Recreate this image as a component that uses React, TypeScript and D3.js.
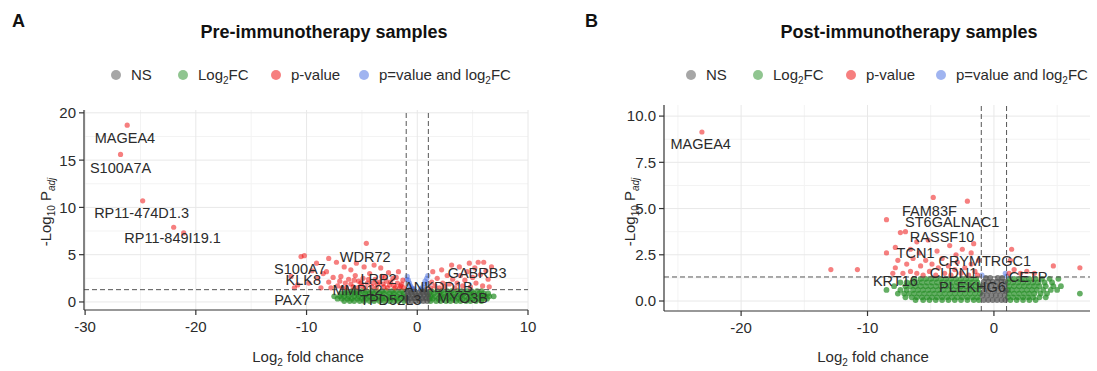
import React from 'react';
import * as d3 from 'd3';

type Pt = [number, number];
type Row = [number, number[]];
type Lbl = [string, number, number];

// ---- Panel A: pre-immunotherapy ----
const redA: Pt[] = [
  [-26.2, 18.7], [-26.8, 15.6], [-24.8, 10.7], [-22.0, 7.9], [-21.1, 7.3],
  [-11.4, 2.7], [-11.1, 1.5], [-10.8, 1.8], [-10.5, 4.8], [-10.2, 4.9], [-9.8, 2.0], [-9.5, 3.3],
  [-9.1, 4.1], [-9.0, 2.5], [-8.7, 1.5], [-8.5, 3.0], [-8.2, 3.2], [-8.0, 4.6], [-8.0, 2.1],
  [-7.8, 1.5], [-7.6, 2.6], [-7.3, 4.2], [-7.2, 1.7], [-7.0, 2.2], [-6.9, 2.7], [-6.8, 1.5],
  [-6.6, 3.7], [-6.5, 2.0], [-6.4, 1.5], [-6.2, 2.4], [-6.0, 3.4], [-6.0, 1.9], [-5.8, 1.6],
  [-5.7, 2.3], [-5.5, 4.1], [-5.6, 2.8], [-5.4, 1.5], [-5.3, 2.2], [-5.1, 2.0], [-5.0, 1.7],
  [-4.8, 3.7], [-4.9, 2.5], [-4.7, 1.5], [-4.6, 6.2], [-4.5, 2.0], [-4.4, 2.4], [-4.3, 3.0],
  [-4.1, 1.6], [-4.0, 2.0], [-3.9, 3.9], [-3.8, 2.4], [-3.7, 1.5], [-3.6, 1.9], [-3.4, 2.1],
  [-3.3, 3.6], [-3.2, 2.7], [-3.1, 1.9], [-3.0, 1.6], [-2.9, 2.6], [-2.8, 2.2], [-2.7, 1.5],
  [-2.6, 3.1], [-2.5, 1.8], [-2.4, 2.1], [-2.2, 2.5], [-2.1, 1.7], [-2.0, 1.5], [-1.9, 2.6],
  [-1.8, 2.0], [-1.7, 3.2], [-1.6, 1.5], [-1.5, 1.7], [-1.4, 1.9], [-1.3, 2.3], [-1.2, 1.5],
  [1.2, 1.5], [1.3, 2.1], [1.4, 3.2], [1.6, 1.7], [1.8, 2.5], [2.0, 1.5], [2.2, 3.4], [2.3, 2.0],
  [2.5, 1.6], [2.7, 2.8], [2.9, 1.9], [3.1, 3.9], [3.2, 2.4], [3.4, 1.5], [3.6, 2.0], [3.8, 3.7],
  [3.9, 2.8], [4.1, 1.7], [4.3, 2.3], [4.5, 3.2], [4.7, 4.1], [4.8, 1.6], [5.0, 2.6], [5.2, 3.6],
  [5.3, 2.0], [5.5, 4.2], [5.7, 2.9], [5.9, 1.7], [6.0, 4.2], [6.2, 3.3], [6.4, 2.4], [6.7, 3.7],
  [6.5, 1.6],
];
const greenA: Row[] = [
  [1.15, [-6.4, -5.9, -5.5, -5.0, -4.6, -4.1, -3.7, -3.2, -2.8, -2.3, -1.9, -1.4, 1.3, 1.8, 2.2, 2.7, 3.1, 3.6, 4.0, 4.5, 4.9, 5.4, 5.8]],
  [0.9, [-6.9, -6.5, -6.0, -5.6, -5.2, -4.7, -4.3, -3.9, -3.4, -3.0, -2.5, -2.1, -1.6, -1.2, 1.1, 1.5, 2.0, 2.4, 2.9, 3.3, 3.8, 4.2, 4.7, 5.1, 5.6, 6.0, 6.4]],
  [0.6, [-7.5, -7.0, -6.6, -6.2, -5.7, -5.3, -4.8, -4.4, -4.0, -3.5, -3.1, -2.6, -2.2, -1.8, -1.3, 1.2, 1.6, 2.1, 2.5, 3.0, 3.4, 3.9, 4.3, 4.8, 5.2, 5.7, 6.1, 6.5, 6.9]],
  [0.35, [-7.2, -6.8, -6.3, -5.9, -5.4, -5.0, -4.6, -4.1, -3.7, -3.2, -2.8, -2.4, -1.9, -1.5, -1.1, 1.1, 1.4, 1.9, 2.3, 2.8, 3.2, 3.7, 4.1, 4.6, 5.0, 5.5, 5.9, 6.3]],
  [0.1, [-6.6, -6.1, -5.7, -5.2, -4.8, -4.3, -3.9, -3.4, -3.0, -2.5, -2.1, -1.7, -1.2, 1.2, 1.7, 2.1, 2.6, 3.0, 3.5, 3.9, 4.4, 4.8, 5.3, 5.8]],
];
const grayA: Row[] = [
  [0.1, [-0.85, -0.5, -0.15, 0.2, 0.55, 0.9]],
  [0.4, [-0.95, -0.6, -0.25, 0.1, 0.45, 0.8]],
  [0.7, [-0.8, -0.45, -0.1, 0.25, 0.6, 0.95]],
  [1.0, [-0.9, -0.55, -0.2, 0.15, 0.5, 0.85]],
  [1.25, [-0.7, -0.35, 0.35, 0.7]],
];
const blueA: Pt[] = [
  [-0.95, 2.4], [-0.9, 2.7], [-0.8, 2.3], [-0.7, 2.0], [-0.6, 1.7], [-0.5, 1.5], [-0.3, 1.4],
  [0.3, 1.4], [0.5, 1.6], [0.6, 1.9], [0.7, 2.2], [0.85, 2.5], [0.95, 2.8], [0.9, 2.0],
];
const labelsA: Lbl[] = [
  ['MAGEA4', -26.4, 17.4], ['S100A7A', -26.8, 14.2], ['RP11-474D1.3', -24.9, 9.4],
  ['RP11-849I19.1', -22.1, 6.8], ['WDR72', -4.7, 4.8], ['S100A7', -10.6, 3.5], ['KLK8', -10.3, 2.3],
  ['PAX7', -11.3, 0.2], ['LRP2', -3.5, 2.4], ['MMP12', -5.4, 1.3], ['TPD52L3', -2.4, 0.2],
  ['ANKDD1B', 1.9, 1.6], ['GABRB3', 5.4, 3.1], ['MYO3B', 4.1, 0.4],
];

// ---- Panel B: post-immunotherapy ----
const redB: Pt[] = [
  [-23.1, 9.14], [-12.9, 1.7], [-10.8, 1.7], [-8.5, 4.4], [-8.5, 2.6], [-7.8, 2.9], [-7.8, 1.8],
  [-7.4, 3.7], [-7.0, 3.75], [-6.1, 3.2], [-4.8, 5.6], [-2.1, 5.4], [-2.5, 2.8], [-1.8, 2.6],
  [1.4, 2.8], [4.7, 1.9], [6.8, 1.8],
  [-8.0, 1.5], [-7.6, 2.2], [-7.2, 1.5], [-6.9, 2.0], [-6.6, 1.6], [-6.6, 2.8], [-6.4, 2.3],
  [-6.1, 1.5], [-5.9, 2.6], [-5.8, 1.9], [-5.6, 1.4], [-5.4, 2.2], [-5.2, 3.3], [-5.1, 1.6],
  [-4.9, 2.0], [-4.6, 1.4], [-4.5, 2.7], [-4.4, 1.8], [-4.1, 2.3], [-3.9, 1.5], [-3.6, 1.9],
  [-3.5, 3.0], [-3.4, 1.4], [-3.1, 1.7], [-3.0, 2.5], [-2.9, 2.1], [-2.6, 1.5], [-2.3, 1.8],
  [-2.0, 1.4], [-1.8, 2.0], [-1.6, 3.1], [-1.5, 1.6], [-1.3, 1.4], [-1.2, 2.2],
  [1.2, 1.5], [1.6, 1.7], [2.1, 1.5], [1.3, 2.2], [2.6, 1.6], [3.2, 1.5],
];
const greenB: Row[] = [
  [1.2, [-6.3, -5.8, -5.4, -5.0, -4.6, -4.2, -3.8, -3.4, -3.0, -2.6, -2.2, -1.8, -1.4, 1.2, 1.6, 2.0, 2.4, 2.8, 3.3, 3.8, 4.4, 5.1]],
  [1.0, [-7.4, -6.9, -6.5, -6.1, -5.7, -5.3, -4.9, -4.5, -4.1, -3.7, -3.3, -2.9, -2.5, -2.1, -1.7, -1.3, 1.1, 1.5, 1.9, 2.3, 2.7, 3.1, 3.5, 4.0, 4.6]],
  [0.8, [-7.9, -7.0, -6.6, -6.2, -5.8, -5.4, -5.0, -4.6, -4.2, -3.8, -3.4, -3.0, -2.6, -2.2, -1.8, -1.4, -1.1, 1.2, 1.6, 2.0, 2.4, 2.8, 3.2, 3.6, 4.1, 4.7, 5.3]],
  [0.6, [-8.5, -7.4, -6.9, -6.4, -6.0, -5.6, -5.2, -4.8, -4.4, -4.0, -3.6, -3.2, -2.8, -2.4, -2.0, -1.6, -1.2, 1.1, 1.4, 1.8, 2.2, 2.6, 3.0, 3.4, 3.9, 4.5, 5.0]],
  [0.4, [-7.6, -7.1, -6.7, -6.3, -5.9, -5.5, -5.1, -4.7, -4.3, -3.9, -3.5, -3.1, -2.7, -2.3, -1.9, -1.5, -1.1, 1.2, 1.6, 2.0, 2.4, 2.8, 3.2, 3.7, 4.2, 6.8]],
  [0.2, [-7.0, -6.5, -6.1, -5.7, -5.3, -4.9, -4.5, -4.1, -3.7, -3.3, -2.9, -2.5, -2.1, -1.7, -1.3, 1.1, 1.5, 1.9, 2.3, 2.7, 3.1, 3.6, 4.1]],
  [0.05, [-6.2, -5.6, -5.1, -4.6, -4.1, -3.6, -3.1, -2.6, -2.1, -1.6, -1.2, 1.3, 1.8, 2.3, 2.8, 3.3]],
];
const grayB: Row[] = [
  [0.05, [-0.8, -0.45, -0.1, 0.25, 0.6, 0.9]],
  [0.3, [-0.9, -0.55, -0.2, 0.15, 0.5, 0.85]],
  [0.55, [-0.75, -0.4, 0.0, 0.35, 0.7, 0.95]],
  [0.8, [-0.9, -0.55, -0.2, 0.15, 0.5, 0.85]],
  [1.05, [-0.8, -0.45, -0.1, 0.25, 0.6, 0.9]],
  [1.25, [-0.65, -0.3, 0.3, 0.65]],
];
const blueB: Pt[] = [[1.0, 1.35], [-0.95, 1.4], [0.9, 1.5]];
const labelsB: Lbl[] = [
  ['MAGEA4', -23.2, 8.5], ['FAM83F', -5.1, 4.9], ['ST6GALNAC1', -3.3, 4.3], ['RASSF10', -4.1, 3.5],
  ['TCN1', -6.2, 2.6], ['CRYM', -2.7, 2.2], ['TRGC1', 1.0, 2.2], ['CLDN1', -3.2, 1.5],
  ['KRT16', -7.8, 1.1], ['PLEKHG6', -1.7, 0.75], ['CETP', 2.7, 1.3],
];

const xTicksA = [-30, -20, -10, 0, 10];
const yTicksA = [0, 5, 10, 15, 20];
const xTicksB = [-20, -10, 0];
const yTicksB = [0, 2.5, 5, 7.5, 10];

const COL = { ns: '#4d4d4d', fc: '#228b22', p: '#ee0000', both: '#4169e1' };
const FONT = 'Liberation Sans, Arial, Helvetica, sans-serif';
const TXT = '#2b2b2b';

const rowsToPts = (rows: Row[]): Pt[] => rows.flatMap(([y, xs]) => xs.map((x) => [x, y] as Pt));

function Legend({ xs }: { xs: number[] }) {
  const y = 75;
  const items = [
    { c: COL.ns, t: <>NS</> },
    { c: COL.fc, t: <>Log<tspan dy={4} fontSize={10}>2</tspan><tspan dy={-4}>FC</tspan></> },
    { c: COL.p, t: <>p-value</> },
    { c: COL.both, t: <>p=value and log<tspan dy={4} fontSize={10}>2</tspan><tspan dy={-4}>FC</tspan></> },
  ];
  return (
    <g>
      {items.map((it, i) => (
        <g key={i}>
          <circle cx={xs[i]} cy={y} r={5} fill={it.c} fillOpacity={0.5} />
          <text x={xs[i] + 15} y={y + 5} fontSize={15} fill={TXT}>{it.t}</text>
        </g>
      ))}
    </g>
  );
}

type PanelProps = {
  letter: string; letterX: number; title: string; titleX: number;
  legendXs: number[];
  xDomain: [number, number]; xRange: [number, number];
  yDomain: [number, number]; yRange: [number, number];
  xTicks: number[]; yTicks: number[]; yFmt: (v: number) => string;
  red: Pt[]; green: Row[]; gray: Row[]; blue: Pt[]; labels: Lbl[];
  yTitleX: number; xTitleX: number;
};

function Panel(p: PanelProps) {
  const x = d3.scaleLinear().domain(p.xDomain).range(p.xRange);
  const y = d3.scaleLinear().domain(p.yDomain).range(p.yRange);
  const [x0, x1] = p.xRange;
  const [yb, yt] = p.yRange;
  const xs = p.xTicks;
  const ys = p.yTicks;
  const xStep = xs[1] - xs[0];
  const yStep = ys[1] - ys[0];
  const xMinor = d3.range(xs[0] - xStep, xs[xs.length - 1] + xStep, xStep).map((v) => v + xStep / 2)
    .filter((v) => v > p.xDomain[0] && v < p.xDomain[1]);
  const yMinor = ys.map((v) => v + yStep / 2).filter((v) => v < p.yDomain[1]);
  const xMajor = xs.filter((v) => v >= p.xDomain[0] && v <= p.xDomain[1]).concat(
    d3.range(xs[xs.length - 1] + xStep, p.xDomain[1], xStep));
  const dot = (pts: Pt[], c: string, op: number, r = 2.6) =>
    pts.map((d, i) => <circle key={c + i} cx={x(d[0])} cy={y(d[1])} r={r} fill={c} fillOpacity={op} />);
  const ptsGreen = rowsToPts(p.green);
  const ptsGray = rowsToPts(p.gray);
  return (
    <g fontFamily={FONT}>
      <text x={p.letterX} y={27} fontSize={18} fontWeight="bold" fill="#111">{p.letter}</text>
      <text x={p.titleX} y={38} fontSize={18} fontWeight="bold" textAnchor="middle" fill="#111">{p.title}</text>
      <Legend xs={p.legendXs} />
      {/* grid */}
      {yMinor.map((v) => <line key={'ym' + v} x1={x0} x2={x1} y1={y(v)} y2={y(v)} stroke="#f3f3f3" />)}
      {xMinor.map((v) => <line key={'xm' + v} x1={x(v)} x2={x(v)} y1={yb} y2={yt} stroke="#f3f3f3" />)}
      {ys.map((v) => <line key={'yg' + v} x1={x0} x2={x1} y1={y(v)} y2={y(v)} stroke="#e8e8e8" />)}
      {xMajor.map((v) => <line key={'xg' + v} x1={x(v)} x2={x(v)} y1={yb} y2={yt} stroke="#e8e8e8" />)}
      {/* points */}
      {dot(ptsGreen, COL.fc, 0.7, 2.9)}
      {dot(ptsGray, COL.ns, 0.7, 2.9)}
      {dot(p.blue, COL.both, 0.5)}
      {dot(p.red, COL.p, 0.5)}
      {/* cutoffs */}
      {[-1, 1].map((v) => <line key={'v' + v} x1={x(v)} x2={x(v)} y1={yb} y2={yt} stroke="#555" strokeDasharray="5,3" strokeWidth={1} />)}
      <line x1={x0} x2={x1} y1={y(1.3)} y2={y(1.3)} stroke="#555" strokeDasharray="5,3" strokeWidth={1} />
      {/* labels */}
      {p.labels.map(([t, lx, ly]) => (
        <text key={t} x={x(lx)} y={y(ly)} dy="0.36em" textAnchor="middle" fontSize={14.5} fill={TXT}>{t}</text>
      ))}
      {/* axes */}
      <line x1={x0} x2={x0} y1={yb} y2={yt} stroke="#333" strokeWidth={1.2} />
      <line x1={x0} x2={x1} y1={yb} y2={yb} stroke="#333" strokeWidth={1.2} />
      {ys.map((v) => (
        <g key={'yt' + v}>
          <line x1={x0 - 5} x2={x0} y1={y(v)} y2={y(v)} stroke="#333" strokeWidth={1.2} />
          <text x={x0 - 8} y={y(v)} dy="0.36em" textAnchor="end" fontSize={15} fill={TXT}>{p.yFmt(v)}</text>
        </g>
      ))}
      {xs.map((v) => (
        <g key={'xt' + v}>
          <line x1={x(v)} x2={x(v)} y1={yb} y2={yb + 5} stroke="#333" strokeWidth={1.2} />
          <text x={x(v)} y={yb + 22} textAnchor="middle" fontSize={15} fill={TXT}>{v}</text>
        </g>
      ))}
      <text x={p.xTitleX} y={362} textAnchor="middle" fontSize={15} fill={TXT}>
        Log<tspan dy={4} fontSize={10}>2</tspan><tspan dy={-4}> fold chance</tspan>
      </text>
      <text transform={`translate(${p.yTitleX},212) rotate(-90)`} textAnchor="middle" fontSize={15} fill={TXT}>
        -Log<tspan dy={4} fontSize={10}>10</tspan><tspan dy={-4}> P</tspan>
        <tspan dy={4} fontSize={10} fontStyle="italic">adj</tspan>
      </text>
    </g>
  );
}

export default function App() {
  return (
    <svg width={1097} height={371} style={{ position: 'absolute', left: 0, top: 0, background: '#fff' }}>
      <rect width={1097} height={371} fill="#fff" />
      <Panel
        letter="A" letterX={12} title="Pre-immunotherapy samples" titleX={324}
        legendXs={[116, 183, 276, 364]}
        xDomain={[-30.1, 10]} xRange={[84, 528]} yDomain={[-0.85, 20.3]} yRange={[310, 110]}
        xTicks={xTicksA} yTicks={yTicksA} yFmt={(v) => String(v)}
        red={redA} green={greenA} gray={grayA} blue={blueA} labels={labelsA}
        yTitleX={51} xTitleX={308}
      />
      <Panel
        letter="B" letterX={585} title="Post-immunotherapy samples" titleX={909}
        legendXs={[691, 758, 851, 941]}
        xDomain={[-26.1, 7.6]} xRange={[664, 1090]} yDomain={[-0.54, 10.6]} yRange={[311, 105]}
        xTicks={xTicksB} yTicks={yTicksB} yFmt={(v) => v.toFixed(1)}
        red={redB} green={greenB} gray={grayB} blue={blueB} labels={labelsB}
        yTitleX={635} xTitleX={873}
      />
    </svg>
  );
}
